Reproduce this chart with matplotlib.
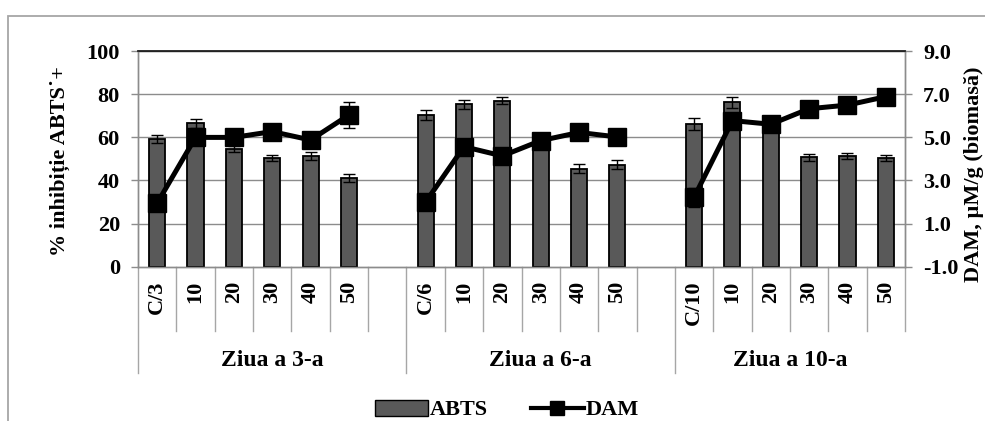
import matplotlib
matplotlib.use("Agg")
import matplotlib.pyplot as plt
import matplotlib.transforms as mtransforms
from matplotlib.patches import Rectangle, Patch
from matplotlib.lines import Line2D
import numpy as np

plt.rcParams['font.family'] = ['Liberation Serif', 'DejaVu Serif']
plt.rcParams['font.weight'] = 'bold'

groups = ["Ziua a 3-a", "Ziua a 6-a", "Ziua a 10-a"]
cat_labels = [["C/3", "10", "20", "30", "40", "50"],
              ["C/6", "10", "20", "30", "40", "50"],
              ["C/10", "10", "20", "30", "40", "50"]]
abts = [[59.3, 66.5, 54.5, 50.3, 51.4, 41.3],
        [70.4, 75.4, 77.0, 57.0, 45.5, 47.3],
        [66.2, 76.3, 65.0, 50.8, 51.2, 50.4]]
abts_err = [[1.9, 2.0, 1.5, 1.4, 2.0, 1.9],
            [2.2, 2.0, 1.7, 1.5, 2.0, 2.0],
            [2.8, 2.6, 2.0, 1.7, 1.4, 1.4]]
dam = [[1.95, 5.0, 5.0, 5.27, 4.88, 6.04],
       [2.0, 4.57, 4.14, 4.85, 5.23, 5.02],
       [2.22, 5.78, 5.61, 6.33, 6.5, 6.89]]
dam_err = [[0.2, 0.3, 0.2, 0.2, 0.2, 0.6],
           [0.2, 0.2, 0.2, 0.2, 0.2, 0.2],
           [0.45, 0.3, 0.2, 0.2, 0.2, 0.2]]
group_slots = [7, 7, 6]

W, H = 985, 421
fig = plt.figure(figsize=(W / 100, H / 100), dpi=100)
ax = fig.add_axes([138 / W, 1 - 266.7 / H, (905 - 138) / W, (266.7 - 51.2) / H])
ax2 = ax.twinx()

grid_c = '#8c8c8c'
sep_c = '#a6a6a6'
bar_c = '#595959'

starts = np.cumsum([0] + group_slots[:-1])
total = sum(group_slots)

for g in range(len(groups)):
    xs = starts[g] + np.arange(len(abts[g]))
    ax.bar(xs, abts[g], width=0.42, color=bar_c, edgecolor='black', linewidth=1.3,
           yerr=abts_err[g], error_kw=dict(ecolor='black', elinewidth=1.0, capsize=4.5, capthick=1.0),
           zorder=3)
    ax2.errorbar(xs, dam[g], yerr=dam_err[g], color='black', linewidth=3.6, marker='s',
                 markersize=13.5, markerfacecolor='black', markeredgecolor='black',
                 ecolor='black', elinewidth=1.0, capsize=4.5, capthick=1.0, zorder=4)

ax.set_xlim(-0.5, total - 0.5)
ax.set_ylim(0, 100)
ax.set_yticks([0, 20, 40, 60, 80, 100])
ax2.set_ylim(-1, 9)
ax2.set_yticks([-1, 1, 3, 5, 7, 9])
ax2.set_yticklabels(['-1.0', '1.0', '3.0', '5.0', '7.0', '9.0'])
ax.set_xticks([])

for y in [20, 40, 60, 80]:
    ax.axhline(y, color=grid_c, linewidth=1.0, zorder=1)

for a in (ax, ax2):
    for s in a.spines.values():
        s.set_color(grid_c)
        s.set_linewidth(1.0)
ax2.spines['top'].set_color('#222222')
ax2.spines['top'].set_linewidth(1.3)
ax.spines['top'].set_color('#222222')

ax.tick_params(axis='y', direction='out', length=5, width=1, color=grid_c, labelsize=16, pad=8)
ax2.tick_params(axis='y', direction='out', length=5, width=1, color=grid_c, labelsize=16, pad=8)
for lab in ax.get_yticklabels() + ax2.get_yticklabels():
    lab.set_fontweight('bold')

# multi-level category axis
trans = mtransforms.blended_transform_factory(ax.transData, ax.transAxes)
short_y = -0.298
long_y = -0.493
for g in range(len(groups)):
    s = starts[g]
    n = group_slots[g]
    for i, lab in enumerate(cat_labels[g]):
        ax.text(s + i, -0.065, lab, transform=trans, rotation=90, ha='center', va='top',
                fontsize=16, fontweight='bold')
    for k in range(n):
        b = s + k + 0.5
        if b >= total - 0.5:
            continue
        is_long = (k == n - 1)
        ax.plot([b, b], [0, long_y if is_long else short_y], transform=trans, color=sep_c,
                linewidth=1.0, clip_on=False)
    ax.text(s + (n - 1) / 2, -0.433, groups[g], transform=trans, ha='center', va='center',
            fontsize=17, fontweight='bold')
ax.plot([-0.5, -0.5], [0, long_y], transform=trans, color=sep_c, linewidth=1.0, clip_on=False)
ax.plot([total - 0.5, total - 0.5], [0, short_y], transform=trans, color=sep_c, linewidth=1.0,
        clip_on=False)

# axis titles
fig.text(60 / W, 1 - 161 / H, "% inhibiție ABTS˙+", rotation=90, ha='center', va='center',
         fontsize=16, fontweight='bold')
fig.text(984 / W, 1 - 174 / H, "DAM, µM/g (biomasă)", rotation=90, ha='right', va='center',
         fontsize=16, fontweight='bold')

# legend
handles = [Patch(facecolor=bar_c, edgecolor='black', linewidth=1.0),
           Line2D([0], [0], color='black', linewidth=3, marker='s', markersize=10)]
fig.legend(handles, ['ABTS', 'DAM'], loc='center', bbox_to_anchor=(507 / W, 1 - 410 / H), ncol=2,
           frameon=False, handlelength=2.4, handletextpad=0.1, columnspacing=1.9,
           handleheight=0.75, prop={'weight': 'bold', 'size': 16})

# outer chart frame
fig.patches.append(Rectangle((7.5 / W, -0.2), 1.2, 1.2 - 16 / H, transform=fig.transFigure,
                             fill=False, edgecolor='#a6a6a6', linewidth=1.3))

fig.savefig('out.png', dpi=100)
